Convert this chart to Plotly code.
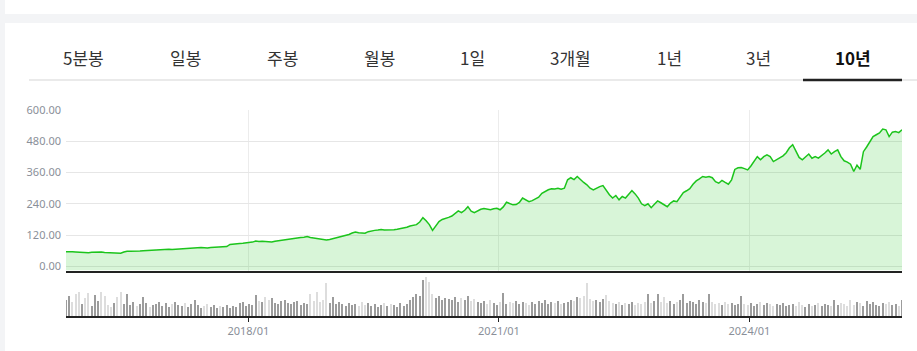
import pandas as pd
import plotly.graph_objects as go
from plotly.subplots import make_subplots

# ---------------- data ----------------
tab_labels = ["5분봉", "일봉", "주봉", "월봉", "1일", "3개월", "1년", "3년", "10년"]
active_tab = "10년"

start_date = "2015-10-27"
end_date = "2025-10-29"

price = [
    56, 57, 56, 55, 54, 55, 53, 52, 54, 55,
    56, 55, 53, 52, 51, 52, 51, 50, 55, 58,
    58, 58, 57, 59, 60, 61, 60, 62, 63, 64,
    64, 65, 66, 65, 66, 67, 68, 67, 68, 69,
    70, 71, 72, 71, 70, 72, 73, 75, 74, 75,
    76, 84, 86, 87, 88, 89, 90, 91, 93, 97,
    95, 96, 95, 92, 93, 96, 98, 100, 103, 105,
    106, 108, 109, 111, 112, 114, 111, 109, 108, 106,
    103, 101, 103, 106, 108, 111, 114, 117, 122, 128,
    132, 129, 128, 127, 133, 137, 138, 139, 141, 139,
    139, 138, 140, 142, 144, 147, 150, 155, 157, 160,
    170, 187, 175, 160, 138, 155, 172, 180, 183, 188,
    193, 205, 213, 206, 215, 229, 212, 206, 214, 219,
    222, 220, 217, 221, 223, 217, 228, 246, 240, 236,
    237, 245, 262, 255, 248, 252, 258, 265, 280, 288,
    294, 298, 297, 300, 296, 300, 332, 340, 333, 345,
    332, 322, 313, 300, 293, 300, 306, 310, 290, 275,
    262, 272, 255, 268, 262, 276, 291, 278, 262, 240,
    233, 240, 225, 238, 251, 244, 238, 229, 243, 251,
    248, 265, 283, 290, 298, 315, 328, 336, 345, 342,
    345, 340, 325, 319, 330, 322, 315, 332, 372, 378,
    379, 375, 370, 385, 405, 421, 409, 421, 428, 421,
    402, 410, 415, 424, 436, 455, 467, 443, 418, 409,
    420, 431, 415, 421, 415, 424, 435, 447, 431, 440,
    447, 421, 405, 400, 392, 364, 388, 372, 440, 458,
    479, 498, 505, 512, 527, 524, 498, 515, 517, 513,
    524,
]

volume = [
    16, 20, 14, 22, 24, 12, 18, 23, 10, 21,
    15, 24, 20, 11, 9, 13, 19, 24, 12, 22,
    11, 14, 10, 12, 19, 13, 9, 11, 12, 14,
    10, 13, 9, 12, 14, 11, 10, 13, 9, 12,
    16, 11, 8, 10, 12, 9, 11, 8, 10, 9,
    11, 8, 10, 9, 13, 14, 10, 12, 11, 21,
    15, 14, 19, 16, 18, 13, 12, 15, 16, 13,
    12, 14, 15, 11, 13, 12, 22, 15, 24, 14,
    16, 33, 13, 19, 12, 14, 12, 10, 13, 11,
    12, 10, 14, 11, 13, 10, 12, 9, 11, 13,
    10, 12, 11, 9, 13, 10, 12, 16, 19, 22,
    20, 36, 39, 34, 22, 18, 20, 16, 18, 17,
    16, 19, 14, 18, 16, 20, 15, 17, 14, 13,
    15, 12, 16, 13, 11, 14, 23, 12, 14, 13,
    15, 12, 14, 13, 11, 14, 12, 15, 13, 16,
    12, 14, 13, 15, 12, 13, 14, 16, 15, 19,
    18, 20, 33, 17, 15, 16, 14, 17, 21, 15,
    13, 12, 14, 11, 13, 12, 14, 11, 13, 12,
    14, 22, 13, 15, 22, 14, 19, 13, 15, 12,
    14, 16, 22, 13, 15, 14, 12, 16, 14, 13,
    22, 14, 12, 13, 11, 14, 12, 13, 11, 12,
    20, 12, 11, 13, 10, 12, 14, 11, 13, 12,
    10, 12, 11, 13, 10, 11, 12, 10, 14, 11,
    9, 12, 10, 11, 13, 10, 12, 11, 10, 16,
    11, 13, 12, 10, 16, 11, 14, 13, 10, 15,
    12, 14, 11, 10, 13, 12, 14, 11, 12, 10,
    16,
]

x_tick_vals = ["2018-01-01", "2021-01-01", "2024-01-01"]
x_tick_text = ["2018/01", "2021/01", "2024/01"]
y_tick_vals = [0, 120, 240, 360, 480, 600]

# ---------------- figure ----------------
dates = pd.date_range(start_date, end_date, periods=len(price))

W, H = 917, 351
ML, MR, MT, MB = 66, 15, 110, 35
PW, PH = W - ML - MR, H - MT - MB


def px(x):
    return (x - ML) / PW


def py(y):
    return (H - MB - y) / PH


Y_MIN, Y_MAX = -16, 600
UP_C, DOWN_C = "#9c9c9c", "#dddddd"
vol_colors = [UP_C if i == 0 or price[i] >= price[i - 1] else DOWN_C for i in range(len(price))]

fig = make_subplots(rows=2, cols=1, shared_xaxes=True, vertical_spacing=0,
                    row_heights=[0.78, 0.22])

fig.add_trace(go.Scatter(x=dates, y=[Y_MIN] * len(dates), mode="lines",
                         line=dict(width=0, color="rgba(0,0,0,0)"),
                         hoverinfo="skip", showlegend=False), row=1, col=1)
fig.add_trace(go.Scatter(x=dates, y=price, mode="lines",
                         line=dict(color="#1cc41c", width=1.5),
                         fill="tonexty", fillcolor="rgba(40,200,40,0.18)",
                         showlegend=False), row=1, col=1)
fig.add_trace(go.Bar(x=dates, y=volume, marker=dict(color=vol_colors, line=dict(width=0)),
                     width=5 * 86400000, showlegend=False), row=2, col=1)

tick_font = dict(family="Noto Sans, DejaVu Sans, sans-serif", size=11, color="#8a8f99")

fig.update_layout(
    width=W, height=H,
    margin=dict(l=ML, r=MR, t=MT, b=MB),
    paper_bgcolor="white", plot_bgcolor="white",
    showlegend=False, bargap=0,
    yaxis=dict(domain=[py(270.5), 1.0], range=[Y_MIN, Y_MAX], tickvals=y_tick_vals,
               tickformat=".2f", showgrid=True, gridcolor="#e6e6e6", gridwidth=1,
               zeroline=False, showline=False, ticks="", tickfont=tick_font,
               ticklabelstandoff=4),
    yaxis2=dict(domain=[0, py(274)], range=[0, 42], showgrid=False, zeroline=False,
                showticklabels=False, showline=False, ticks=""),
    xaxis=dict(range=[dates[0], dates[-1]], tickvals=x_tick_vals, showgrid=True,
               gridcolor="#ececec", gridwidth=1, showticklabels=False, ticks="",
               showline=True, linecolor="#222222", linewidth=2, zeroline=False),
    xaxis2=dict(range=[dates[0], dates[-1]], tickvals=x_tick_vals, ticktext=x_tick_text,
                showgrid=False, ticks="outside", ticklen=4, tickcolor="#222222",
                tickwidth=1, showline=True, linecolor="#222222", linewidth=2,
                zeroline=False, tickfont=tick_font),
)

shapes = [
    # page background strips
    dict(type="rect", xref="paper", yref="paper", x0=px(0), x1=px(5), y0=py(351), y1=py(0),
         fillcolor="#f3f4f6", line=dict(width=0), layer="below"),
    dict(type="rect", xref="paper", yref="paper", x0=px(0), x1=px(917), y0=py(23), y1=py(14),
         fillcolor="#f3f4f6", line=dict(width=0), layer="below"),
    # tab separator line
    dict(type="line", xref="paper", yref="paper", x0=px(29), x1=px(917), y0=py(80), y1=py(80),
         line=dict(color="#e3e3e3", width=1.5)),
    # active tab underline
    dict(type="line", xref="paper", yref="paper", x0=px(803), x1=px(902), y0=py(80), y1=py(80),
         line=dict(color="#222222", width=2.5)),
]
fig.update_layout(shapes=shapes)

tab_centers = [83, 185, 282, 379, 472, 570, 669, 758, 853]
for label, cx in zip(tab_labels, tab_centers):
    active = label == active_tab
    fig.add_annotation(
        x=px(cx), y=py(57.5), xref="paper", yref="paper",
        text=f"<b>{label}</b>" if active else label, showarrow=False,
        xanchor="center", yanchor="middle",
        font=dict(family="Noto Sans CJK KR, Noto Sans, sans-serif", size=17,
                  color="#111111" if active else "#333333"),
    )

fig.write_html("out.html")
